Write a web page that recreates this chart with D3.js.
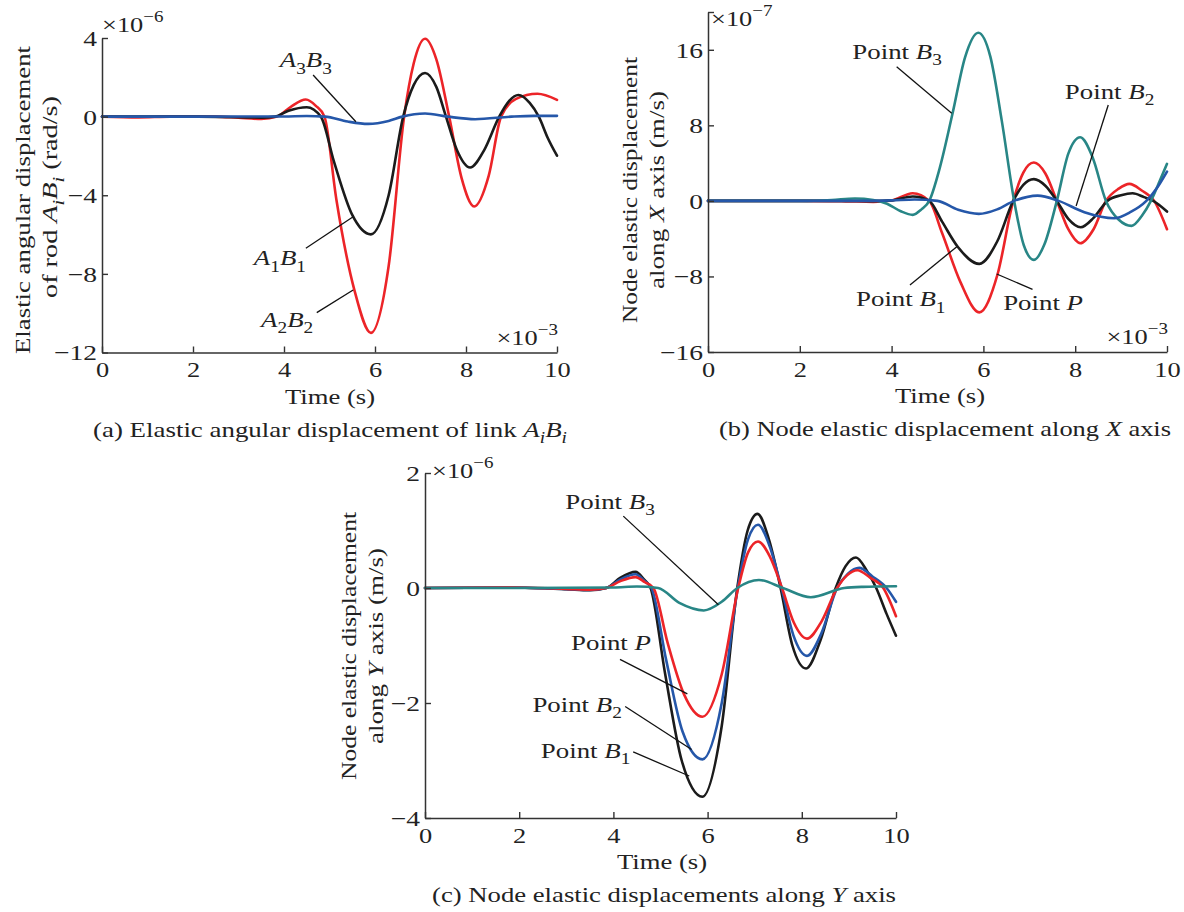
<!DOCTYPE html>
<html><head><meta charset="utf-8">
<script src="https://cdn.jsdelivr.net/npm/d3@7"></script>
<style>
body{margin:0;background:#fff}
svg{display:block}
text{font-family:"Liberation Serif","Times New Roman",serif;fill:#222}
</style>
</head><body>
<svg id="chart" width="1184" height="912"></svg>
<script>
// ---------------- DATA ----------------
const timeTicks = [0, 2, 4, 6, 8, 10];
const yTicksA = [-12, -8, -4, 0, 4];
const yTicksB = [-16, -8, 0, 8, 16, 20];
const yTicksC = [-4, -2, 0, 2];

// (a) elastic angular displacement of rods, x1e-6 rad/s vs time x1e-3 s
const aA1B1 = [[0,0],[1,0.01],[2,0],[3,-0.03],[3.5,-0.05],[3.8,0],[4.1,0.3],[4.5,0.48],[4.81,0],[5.1,-2.3],[5.5,-5.0],[5.91,-5.99],[6.3,-4.0],[6.62,0],[6.85,1.6],[7.1,2.22],[7.35,1.5],[7.56,0],[7.8,-1.7],[8.09,-2.59],[8.4,-1.7],[8.73,0],[8.95,0.8],[9.15,1.1],[9.4,0.7],[9.6,0],[9.8,-1.1],[10,-1.99]];
const aA2B2 = [[0,0],[0.8,-0.04],[1.5,0],[2.5,0],[3.0,-0.06],[3.5,-0.12],[3.85,0],[4.15,0.5],[4.48,0.87],[4.7,0.55],[4.89,0],[5.15,-4.2],[5.55,-8.85],[5.91,-11.0],[6.3,-7.6],[6.64,0],[6.85,2.7],[7.1,3.96],[7.35,2.9],[7.63,0],[7.9,-3.1],[8.18,-4.57],[8.5,-3.0],[8.77,0],[9.1,0.9],[9.57,1.16],[10,0.85]];
const aA3B3 = [[0,0],[2,0],[4,0.01],[4.5,0.03],[4.9,0],[5.4,-0.25],[5.85,-0.37],[6.3,-0.22],[6.6,0],[7.1,0.16],[7.6,0],[8.2,-0.13],[9.0,0],[9.5,0.04],[10,0.04]];

// (b) node elastic displacement along X axis, x1e-7 m/s
const bB1 = [[0,0],[2,0],[3,0],[3.6,-0.03],[4.0,0.05],[4.46,0.46],[4.82,0],[5.1,-2.2],[5.44,-4.85],[5.91,-6.67],[6.3,-4.3],[6.65,0],[6.87,1.7],[7.1,2.3],[7.35,1.6],[7.6,0],[7.85,-1.9],[8.12,-2.79],[8.4,-1.8],[8.7,0],[9.0,0.6],[9.25,0.81],[9.5,0.4],[9.7,0],[10,-1.13]];
const bP = [[0,0],[2,0],[3,-0.05],[3.6,-0.1],[4.0,0.05],[4.46,0.81],[4.82,0],[5.1,-3.4],[5.5,-8.6],[5.91,-11.8],[6.31,-7.74],[6.65,0],[6.87,3.0],[7.1,4.06],[7.35,2.9],[7.6,0],[7.85,-3.0],[8.11,-4.48],[8.4,-3.0],[8.67,0],[8.95,1.3],[9.18,1.8],[9.45,1.1],[9.72,0],[10,-3.0]];
const bB2 = [[0,0],[2,0],[3.5,0],[4.0,0.05],[4.5,0.15],[5.0,0],[5.45,-0.95],[5.9,-1.38],[6.3,-0.9],[6.67,0],[7.18,0.56],[7.64,0],[8.2,-1.2],[8.85,-1.84],[9.2,-1.2],[9.55,0],[9.8,1.5],[10,3.1]];
const bB3 = [[0,0],[2,0],[2.7,0.1],[3.2,0.25],[3.6,0.1],[3.9,-0.3],[4.2,-1.1],[4.46,-1.48],[4.65,-0.9],[4.82,0],[5.05,3.5],[5.33,9.3],[5.6,15.2],[5.89,17.8],[6.15,15.3],[6.4,8.5],[6.67,0],[6.88,-4.7],[7.1,-6.25],[7.33,-4.6],[7.6,0],[7.85,5.0],[8.11,6.74],[8.38,4.6],[8.67,0],[8.95,-2.0],[9.23,-2.65],[9.45,-1.6],[9.65,0],[9.85,2.2],[10,3.92]];

// (c) node elastic displacements along Y axis, x1e-6 m/s
const cB1 = [[0,0],[1.8,0.01],[3.0,-0.02],[3.5,-0.04],[3.85,0],[4.15,0.18],[4.47,0.28],[4.65,0.15],[4.79,0],[5.1,-1.5],[5.45,-3.0],[5.89,-3.63],[6.3,-2.4],[6.63,0],[6.85,1.0],[7.06,1.29],[7.3,0.85],[7.55,0],[7.8,-1.0],[8.09,-1.4],[8.4,-0.9],[8.72,0],[8.93,0.38],[9.15,0.53],[9.38,0.3],[9.58,0],[9.8,-0.45],[10,-0.83]];
const cB2 = [[0,0],[1.8,0.01],[3.0,-0.02],[3.5,-0.035],[3.85,0],[4.15,0.15],[4.47,0.24],[4.65,0.13],[4.81,0],[5.12,-1.25],[5.47,-2.5],[5.89,-2.98],[6.3,-2.0],[6.64,0],[6.86,0.85],[7.07,1.1],[7.32,0.72],[7.57,0],[7.82,-0.82],[8.11,-1.18],[8.42,-0.78],[8.75,0],[8.98,0.25],[9.22,0.35],[9.5,0.2],[9.8,0],[10,-0.24]];
const cP = [[0,0],[1.8,0.01],[3.0,-0.015],[3.5,-0.03],[3.85,0],[4.15,0.12],[4.47,0.19],[4.67,0.1],[4.85,0],[5.15,-0.95],[5.5,-1.85],[5.89,-2.24],[6.3,-1.5],[6.65,0],[6.86,0.62],[7.07,0.81],[7.32,0.55],[7.58,0],[7.83,-0.6],[8.11,-0.88],[8.42,-0.58],[8.75,0],[8.96,0.22],[9.18,0.31],[9.45,0.18],[9.73,0],[10,-0.49]];
const cB3 = [[0,0],[2,0],[4,0.01],[4.5,0.025],[4.95,0],[5.4,-0.26],[5.92,-0.39],[6.3,-0.24],[6.63,0],[7.09,0.14],[7.6,0],[8.19,-0.16],[8.9,0],[9.3,0.02],[10,0.03]];

// ---------------- STYLE / LAYOUT ----------------
const COL = {black:"#1b1b1b", red:"#ec2428", blue:"#2557a9", teal:"#288686"};
const FS = 22;
const svg = d3.select("#chart");

function rich(textSel, segs, fs){
  let shift = 0;
  segs.forEach(([txt, f]) => {
    const sub = f.includes("s"), sup = f.includes("u");
    const target = sub ? 0.3*fs : (sup ? -0.45*fs : 0);
    const ts = textSel.append("tspan").text(txt)
      .attr("dy", target - shift)
      .attr("font-size", (sub||sup) ? 0.72*fs : fs);
    if (f.includes("i")) ts.attr("font-style","italic");
    shift = target;
  });
  return textSel;
}
function stretch(sel, k){
  sel.each(function(){
    const L = this.getComputedTextLength();
    if (L > 0) d3.select(this).attr("textLength", L*k).attr("lengthAdjust","spacingAndGlyphs");
  });
}
function fitTo(sel, w){ sel.attr("textLength", w).attr("lengthAdjust","spacingAndGlyphs"); }

const panels = [
  { key:"a", left:102, right:557, top:38, bottom:352.5, ydom:[-12,4], yticks:yTicksA, hidden:[],
    series:[[aA2B2,COL.red],[aA1B1,COL.black],[aA3B3,COL.blue]],
    ylab1:[["Elastic angular displacement",""]],
    ylab2:[["of rod ",""],["A","i"],["i","is"],["B","i"],["i","is"],[" (rad/s)",""]],
    ylabX:[30,57], ylabY:[200,197], ylabLen:[308,202],
    expTop:[["×10",""],["−6","u"]], expTopX:102, expTopY:32,
    expRight:true,
    caption:[["(a) Elastic angular displacement of link ",""],["A","i"],["i","is"],["B","i"],["i","is"]], capX:330, capW:474,
    timeX:330,
    notes:[
      {segs:[["A","i"],["3","s"],["B","i"],["3","s"]], at:[4.48,2.88], from:[4.64,2.12], to:[5.58,-0.26]},
      {segs:[["A","i"],["1","s"],["B","i"],["1","s"]], at:[3.91,-7.2], from:[4.48,-6.70], to:[5.52,-5.09]},
      {segs:[["A","i"],["2","s"],["B","i"],["2","s"]], at:[4.07,-10.34], from:[4.72,-9.97], to:[5.52,-8.82]}
    ]},
  { key:"b", left:708, right:1167, top:12, bottom:352, ydom:[-16,20], yticks:yTicksB, hidden:[20],
    series:[[bP,COL.red],[bB1,COL.black],[bB3,COL.teal],[bB2,COL.blue]],
    ylab1:[["Node elastic displacement",""]],
    ylab2:[["along ",""],["X","i"],[" axis (m/s)",""]],
    ylabX:[637,664], ylabY:[190,190], ylabLen:[266,198],
    expTop:[["×10",""],["−7","u"]], expTopX:711, expTopY:26,
    expRight:true,
    caption:[["(b) Node elastic displacement along ",""],["X","i"],[" axis",""]], capX:945, capW:452,
    timeX:940,
    notes:[
      {segs:[["Point ",""],["B","i"],["3","s"]], at:[4.12,15.8], from:[4.11,14.21], to:[5.31,9.28]},
      {segs:[["Point ",""],["B","i"],["2","s"]], at:[8.75,11.56], from:[8.72,10.15], to:[8.02,-0.54]},
      {segs:[["Point ",""],["B","i"],["1","s"]], at:[4.20,-10.4], from:[4.40,-8.9], to:[5.42,-4.85]},
      {segs:[["Point ",""],["P","i"]], at:[7.30,-10.8], from:[7.07,-9.36], to:[6.29,-7.74]}
    ]},
  { key:"c", left:425, right:896, top:473, bottom:818, ydom:[-4,2], yticks:yTicksC, hidden:[],
    series:[[cB1,COL.black],[cB2,COL.blue],[cP,COL.red],[cB3,COL.teal]],
    ylab1:[["Node elastic displacement",""]],
    ylab2:[["along ",""],["Y","i"],[" axis (m/s)",""]],
    ylabX:[356,383], ylabY:[646,646], ylabLen:[268,196],
    expTop:[["×10",""],["−6","u"]], expTopX:432, expTopY:478,
    expRight:false,
    caption:[["(c) Node elastic displacements along ",""],["Y","i"],[" axis",""]], capX:664, capW:464,
    timeX:662,
    notes:[
      {segs:[["Point ",""],["B","i"],["3","s"]], at:[3.93,1.50], from:[4.21,1.25], to:[6.23,-0.29]},
      {segs:[["Point ",""],["P","i"]], at:[3.95,-0.96], from:[4.14,-1.24], to:[5.57,-1.84]},
      {segs:[["Point ",""],["B","i"],["2","s"]], at:[3.23,-2.03], from:[4.25,-2.06], to:[5.66,-2.81]},
      {segs:[["Point ",""],["B","i"],["1","s"]], at:[3.41,-2.83], from:[4.42,-2.85], to:[5.61,-3.27]}
    ]}
];

const fmt = d => (d < 0 ? "\u2212" + Math.abs(d) : String(d));

panels.forEach(p => {
  const g = svg.append("g");
  const x = d3.scaleLinear().domain([0,10]).range([p.left, p.right]);
  const y = d3.scaleLinear().domain(p.ydom).range([p.bottom, p.top]);

  // curves
  const line = d3.line().x(d => x(d[0])).y(d => y(d[1])).curve(d3.curveMonotoneX);
  p.series.forEach(([data, c]) => {
    g.append("path").datum(data).attr("d", line)
      .attr("fill","none").attr("stroke", c).attr("stroke-width", 2.6)
      .attr("stroke-linejoin","round").attr("stroke-linecap","round");
  });

  // axes
  const xAxis = d3.axisBottom(x).tickValues(timeTicks).tickSize(-6).tickSizeOuter(0)
    .tickPadding(9).tickFormat(fmt);
  const yAxis = d3.axisLeft(y).tickValues(p.yticks).tickSize(-6).tickSizeOuter(0)
    .tickPadding(5).tickFormat(d => p.hidden.includes(d) ? "" : fmt(d));
  const gx = g.append("g").attr("transform", `translate(0,${p.bottom})`).call(xAxis);
  const gy = g.append("g").attr("transform", `translate(${p.left},0)`).call(yAxis);
  [gx, gy].forEach(ax => {
    ax.selectAll(".domain").attr("stroke","#333").attr("stroke-width",1.5);
    ax.selectAll(".tick line").attr("stroke","#333").attr("stroke-width",1.4);
    ax.selectAll(".tick text").attr("font-size", FS)
      .attr("font-family","'Liberation Serif',serif").attr("fill","#222");
  });
  gy.selectAll(".tick text").attr("dy","0.34em");
  gx.selectAll(".tick text").attr("dy","0.71em");
  stretch(gx.selectAll(".tick text"), 1.2);
  stretch(gy.selectAll(".tick text"), 1.25);

  // axis titles
  const tt = g.append("text").attr("x", p.timeX).attr("y", p.bottom + 51)
    .attr("text-anchor","middle").attr("font-size", FS).text("Time (s)");
  fitTo(tt, 90);
  const yl1 = g.append("text").attr("text-anchor","middle").attr("font-size",FS)
    .attr("transform",`translate(${p.ylabX[0]},${p.ylabY[0]}) rotate(-90)`);
  rich(yl1, p.ylab1, FS); fitTo(yl1, p.ylabLen[0]);
  const yl2 = g.append("text").attr("text-anchor","middle").attr("font-size",FS)
    .attr("transform",`translate(${p.ylabX[1]},${p.ylabY[1]}) rotate(-90)`);
  rich(yl2, p.ylab2, FS); fitTo(yl2, p.ylabLen[1]);

  // exponent labels
  const e1 = g.append("text").attr("x", p.expTopX).attr("y", p.expTopY).attr("font-size", FS);
  rich(e1, p.expTop, FS); stretch(e1, 1.2);
  if (p.expRight) {
    const e2 = g.append("text").attr("x", p.right+1).attr("y", p.bottom - 8)
      .attr("text-anchor","end").attr("font-size", FS);
    rich(e2, [["×10",""],["−3","u"]], FS); stretch(e2, 1.2);
  }

  // caption
  const cap = g.append("text").attr("x", p.capX).attr("y", p.bottom + 84)
    .attr("text-anchor","middle").attr("font-size", FS);
  rich(cap, p.caption, FS); fitTo(cap, p.capW);

  // annotations
  p.notes.forEach(n => {
    g.append("line").attr("x1", x(n.from[0])).attr("y1", y(n.from[1]))
      .attr("x2", x(n.to[0])).attr("y2", y(n.to[1]))
      .attr("stroke","#111").attr("stroke-width",1.3);
    const t = g.append("text").attr("x", x(n.at[0])).attr("y", y(n.at[1]) + 7)
      .attr("text-anchor","middle").attr("font-size", FS);
    rich(t, n.segs, FS); stretch(t, 1.22);
  });
});
</script>
</body></html>
